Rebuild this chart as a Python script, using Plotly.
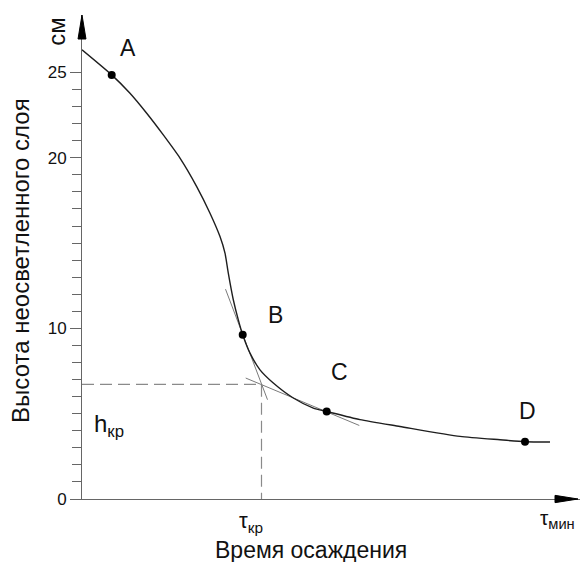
import plotly.graph_objects as go

# ---- data ----
t_curve = [0, 5.94, 9.6, 12.94, 16.26, 19.6, 22.94, 25.6, 27.6, 28.6, 29.26, 30.26,
           31.26, 32.14, 33.6, 35.6, 38.26, 42.26, 46.26, 48.94, 55.6, 63.6, 75.6,
           83.6, 88.6, 93.6]
h_curve = [26.33, 24.86, 23.78, 22.61, 21.34, 19.98, 18.31, 16.75, 15.38, 14.41, 13.24,
           11.68, 10.5, 9.63, 8.55, 7.57, 6.8, 5.92, 5.33, 5.13, 4.65, 4.25, 3.67,
           3.47, 3.36, 3.34]

point_names = ["A", "B", "C", "D"]
point_t = [5.94, 32.14, 48.94, 88.6]
point_h = [24.86, 9.63, 5.13, 3.36]
label_t = [9.1, 38.6, 51.5, 89.1]
label_h = [26.45, 10.8, 7.42, 5.13]

tangent_B_t = [28.7, 37.1]
tangent_B_h = [12.3, 5.82]
tangent_C_t = [32.74, 55.46]
tangent_C_h = [7.09, 4.31]

t_kr = 35.9
h_kr = 6.72

y_major_ticks = [0, 10, 20, 25]
y_minor_ticks = [v for v in range(1, 25) if v not in (10, 20)]

X_MAX = 99.6
Y_MAX = 28.37

FONT = "Liberation Sans, Arial, sans-serif"
TXT = "#111111"

fig = go.Figure()

# dashed construction lines
fig.add_trace(go.Scatter(
    x=[0, t_kr, t_kr], y=[h_kr, h_kr, 0], mode="lines",
    line=dict(color="#8a8a8a", width=1.2, dash="12px,6px"), hoverinfo="skip"))

# tangents
for tt, hh in ((tangent_B_t, tangent_B_h), (tangent_C_t, tangent_C_h)):
    fig.add_trace(go.Scatter(x=tt, y=hh, mode="lines",
                             line=dict(color="#7a7a7a", width=1), hoverinfo="skip"))

# settling curve
fig.add_trace(go.Scatter(
    x=t_curve, y=h_curve, mode="lines",
    line=dict(color="#1e1e1e", width=1.4, shape="spline", smoothing=0.6)))

# points
fig.add_trace(go.Scatter(
    x=point_t, y=point_h, mode="markers",
    marker=dict(color="#000000", size=8)))

annotations = []
for name, lx, ly in zip(point_names, label_t, label_h):
    annotations.append(dict(x=lx, y=ly, xref="x", yref="y", text=name, showarrow=False,
                            xanchor="center", yanchor="middle",
                            font=dict(family=FONT, size=23, color=TXT)))

annotations += [
    dict(x=1.9, y=4.3, xref="x", yref="y", text="h<sub>кр</sub>", showarrow=False,
         xanchor="left", yanchor="middle", font=dict(family=FONT, size=24, color=TXT)),
    dict(x=0.3384, y=-0.0475, xref="paper", yref="paper", text="τ<sub>кр</sub>",
         showarrow=False, xanchor="center", yanchor="middle",
         font=dict(family=FONT, size=22, color=TXT)),
    dict(x=0.9157, y=-0.0413, xref="paper", yref="paper", text="τ<sub>мин</sub>",
         showarrow=False, xanchor="left", yanchor="middle",
         font=dict(family=FONT, size=21, color=TXT)),
    dict(x=0.4592, y=-0.1054, xref="paper", yref="paper", text="Время осаждения",
         showarrow=False, xanchor="center", yanchor="middle",
         font=dict(family=FONT, size=23, color=TXT)),
    dict(x=-0.1225, y=0.494, xref="paper", yref="paper", text="Высота неосветленного слоя",
         textangle=-90, showarrow=False, xanchor="center", yanchor="middle",
         font=dict(family=FONT, size=24, color=TXT)),
    dict(x=-0.0508, y=0.967, xref="paper", yref="paper", text="см", textangle=-90,
         showarrow=False, xanchor="center", yanchor="middle",
         font=dict(family=FONT, size=24, color=TXT)),
]

shapes = [
    # y-axis arrow
    dict(type="path", xref="paper", yref="paper",
         path="M -0.0080,0.9504 L 0,1.0 L 0.0080,0.9504 Z",
         fillcolor="#000000", line=dict(color="#000000", width=1)),
    # x-axis arrow
    dict(type="path", xref="paper", yref="paper",
         path="M 0.9498,0.0075 L 0.996,0 L 0.9498,-0.0075 Z",
         fillcolor="#000000", line=dict(color="#000000", width=1)),
]

fig.update_layout(
    width=580, height=562,
    margin=dict(l=82, r=0, t=15, b=63),
    paper_bgcolor="white", plot_bgcolor="white",
    showlegend=False,
    annotations=annotations,
    shapes=shapes,
    xaxis=dict(range=[0, X_MAX], showgrid=False, zeroline=False, showline=True,
               linecolor="#666666", linewidth=1, showticklabels=False, ticks="",
               fixedrange=True),
    yaxis=dict(range=[0, Y_MAX], showgrid=False, zeroline=False, showline=True,
               linecolor="#666666", linewidth=1,
               tickmode="array", tickvals=y_major_ticks,
               ticks="outside", ticklen=11, tickcolor="#666666", tickwidth=1,
               tickfont=dict(family=FONT, size=17, color=TXT),
               minor=dict(tickmode="array", tickvals=y_minor_ticks, ticks="outside",
                          ticklen=9, tickcolor="#666666", tickwidth=1),
               fixedrange=True),
)

# remove the default page margin so the 580x562 figure fills the window exactly
fig.write_html("out.html",
               config={"displayModeBar": False},
               post_script="document.body.style.margin='0';document.body.style.overflow='hidden';")
